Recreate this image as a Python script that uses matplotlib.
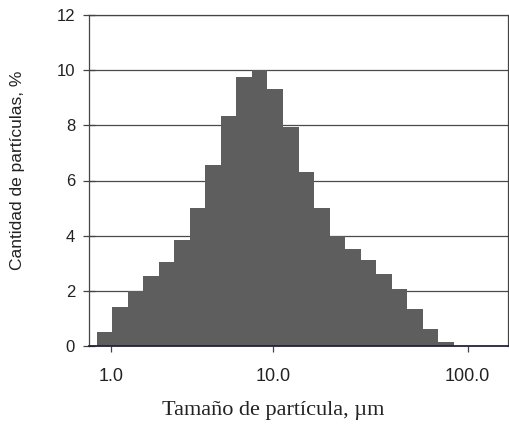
import matplotlib
matplotlib.use('Agg')
import matplotlib.pyplot as plt
import numpy as np

# porcentaje por clase de tamaño (23 clases, ancho igual en el gráfico)
cantidad = [0.5, 1.4, 2.0, 2.55, 3.05, 3.85, 5.0, 6.55, 8.35, 9.75,
            10.0, 9.3, 7.95, 6.3, 5.0, 4.0, 3.5, 3.1, 2.6, 2.05,
            1.35, 0.6, 0.15]
tick_labels = ['1.0', '10.0', '100.0']
tick_pos = [0.42, 10.85, 23.4]          # posición en unidades de clase
y_ticks = [0, 2, 4, 6, 8, 10, 12]

fig = plt.figure(figsize=(5.09, 4.29), dpi=100)
fig.patch.set_facecolor('white')
ax = fig.add_axes([89 / 509, 83 / 429, 419 / 509, 331 / 429])

x = np.arange(len(cantidad))
ax.bar(x, cantidad, width=1.0, color='#5e5e5e', edgecolor='none', zorder=2)

ax.set_xlim(-1.0, 26.0)
ax.set_ylim(0, 12)
ax.set_yticks(y_ticks)
ax.set_xticks(tick_pos)
ax.set_xticklabels(tick_labels)

for yv in y_ticks[1:]:
    ax.axhline(yv, color='#4a4a4a', lw=0.9, zorder=1)

for s in ['left', 'right', 'top']:
    ax.spines[s].set_color('#444444')
    ax.spines[s].set_linewidth(0.9)
ax.spines['bottom'].set_color('#22223a')
ax.spines['bottom'].set_linewidth(1.3)
ax.spines['bottom'].set_zorder(3)

ax.tick_params(axis='y', direction='inout', length=8, width=0.9, color='#444444',
               labelsize=12, pad=6, labelcolor='#222222')
ax.tick_params(axis='x', direction='out', length=4, width=0.9, color='#444444',
               labelsize=13, pad=12, labelcolor='#222222')
for lab in ax.get_xticklabels() + ax.get_yticklabels():
    lab.set_family(['Liberation Sans', 'DejaVu Sans'])

ax.set_ylabel('Cantidad de partículas, %', fontsize=12.5, color='#222222',
              family=['Liberation Sans', 'DejaVu Sans'])
ax.yaxis.set_label_coords(-0.152, 0.53)
ax.set_xlabel('Tamaño de partícula, µm', fontsize=16, color='#222222',
              family=['Liberation Serif', 'DejaVu Serif'])
ax.xaxis.set_label_coords(0.44, -0.165)

fig.savefig('out.png', dpi=100, facecolor='white')
